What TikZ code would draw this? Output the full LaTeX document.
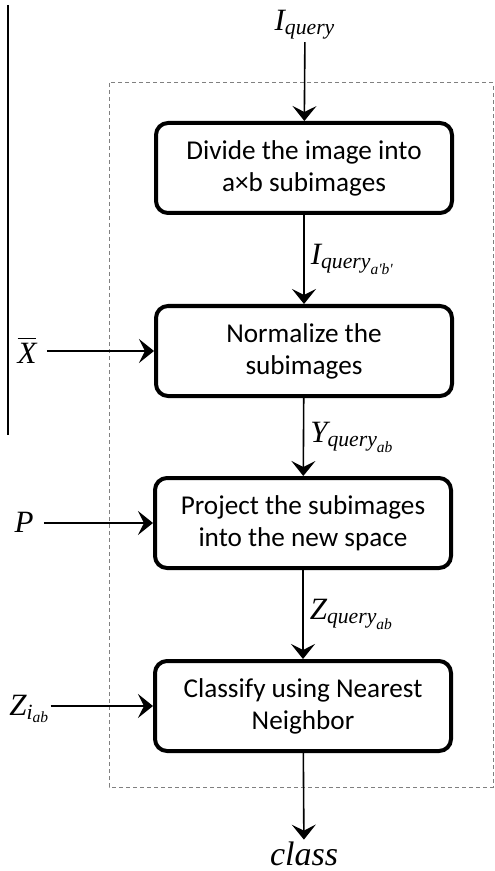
\documentclass[tikz,border=0pt]{standalone}
\usepackage{amsmath}
\usepackage{fontspec}
\setmainfont{Liberation Serif}
\newfontfamily\boxfont{Carlito}
\usetikzlibrary{arrows.meta, positioning, shadows}
\newcommand{\vi}[1]{\textit{#1}}

\begin{document}
\begin{tikzpicture}[
  x=0.5pt, y=-0.5pt,
  stage/.style = {draw=black, line width=2pt, rounded corners=6pt,
                  minimum width=148pt, minimum height=45pt, align=center,
                  fill=white, font=\boxfont\fontsize{13.6}{16}\selectfont,
                  drop shadow={shadow xshift=0.8pt, shadow yshift=-0.8pt,
                               opacity=0.2}},
  flow/.style  = {-{Stealth[length=7.5pt, width=12pt, inset=3pt]},
                  line width=0.8pt},
  sym/.style   = {font=\fontsize{15.5}{18}\selectfont, inner sep=1pt},
  inlbl/.style = {sym, inner xsep=5pt},
  edgelbl/.style = {sym, right=2pt},
  frame/.style = {draw=gray, line width=0.5pt, dash pattern=on 2pt off 1.5pt},
]
\useasboundingbox (0,0) rectangle (494,871);

% ---- frame and side rule
\draw[frame] (109,83) rectangle (493,787);
\draw[line width=0.6pt] (8,5) -- (8,435);

% ---- the pipeline
\node[sym] (iq) at (305,25) {$\vi{I}_{\vi{query}}$};
\node[stage] (divide) at (304,168) {Divide the image into\\a×b subimages};
\node[stage] (norm)   at (304,351) {Normalize the\\subimages};
\node[stage] (proj)   at (303,523) {Project the subimages\\into the new space};
\node[stage] (nn)     at (303,706) {Classify using Nearest\\Neighbor};
\node[sym, font=\fontsize{17}{20}\selectfont] (cls) at (304,854) {\vi{class}};

% ---- side inputs
\node[inlbl] (xbar) at (27,350) {$\overline{\vi{X}}$};
\node[inlbl] (pmat) at (24,522) {\vi{P}};
\node[sym, anchor=base west, inner sep=0pt] (zi) at (9,715)
     {$\vi{Z}_{\vi{i}_{\vi{ab}}}$};

\draw[flow] (iq) -- (divide);
\draw[flow] (divide) -- node[edgelbl]
  {$\vi{I}_{\vi{query}_{\vi{a\textquotesingle b\textquotesingle}}}$} (norm);
\draw[flow] (norm) -- node[edgelbl] {$\vi{Y}_{\vi{query}_{\vi{ab}}}$} (proj);
\draw[flow] (proj) -- node[edgelbl] {$\vi{Z}_{\vi{query}_{\vi{ab}}}$} (nn);
\draw[flow] (nn) -- (cls);

\draw[flow] (xbar.east |- norm.west) -- (norm.west);
\draw[flow] (pmat.east |- proj.west) -- (proj.west);
\draw[flow] (zi.east |- nn.west) -- (nn.west);

\end{tikzpicture}
\end{document}
